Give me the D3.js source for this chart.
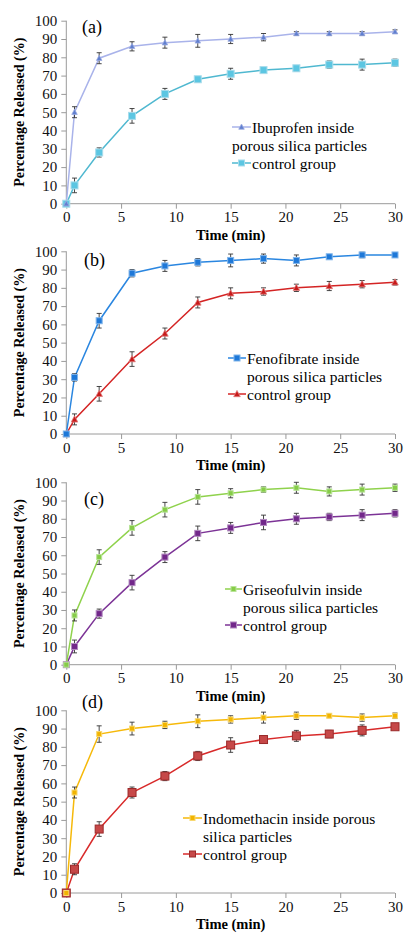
<!DOCTYPE html>
<html><head><meta charset="utf-8">
<script src="https://cdn.jsdelivr.net/npm/d3@7"></script>
<style>body{margin:0;background:#fff}svg{display:block}text{font-family:"Liberation Serif","Times New Roman",serif}</style>
</head><body>
<script>
const times = [0, 0.75, 3, 6, 9, 12, 15, 18, 21, 24, 27, 30];
const yTicks = [0,10,20,30,40,50,60,70,80,90,100];
const xTicks = [0,5,10,15,20,25,30];
const panelLabels = ["(a)","(b)","(c)","(d)"];

const ibuprofen = [0, 50, 79.5, 86, 88, 89, 90, 91, 93, 93, 93, 94];
const ibuprofenErr = [0, 3, 3, 2.5, 3, 3.5, 2.5, 2, 1, 1, 1, 1];
const controlA = [0, 10, 28, 48, 60, 68, 71, 73, 74, 76, 76, 77];
const controlAErr = [0, 4, 2.5, 4, 3, 1.5, 3, 1, 1.5, 2, 3, 2];

const fenofibrate = [0, 31, 62, 88, 92, 94, 95, 96, 95, 97, 98, 98];
const fenofibrateErr = [0, 2, 4, 2, 3, 2, 3.5, 2.5, 3, 1, 1.5, 1];
const controlB = [0, 8, 22, 41, 55, 72, 77, 78, 80, 81, 82, 83];
const controlBErr = [0, 3, 4, 4, 3, 3, 3, 2, 2, 2.5, 2, 1.5];

const griseofulvin = [0, 27, 59, 75, 85, 92, 94, 96, 97, 95, 96, 97];
const griseofulvinErr = [0, 3, 4, 4, 4, 4, 2.5, 1.5, 3, 2.5, 3, 2];
const controlC = [0, 10, 28, 45, 59, 72, 75, 78, 80, 81, 82, 83];
const controlCErr = [0, 3.5, 2.5, 4, 3, 4, 3, 4, 3, 2, 3, 2];

const indomethacin = [0, 55, 87, 90, 92, 94, 95, 96, 97, 97, 96, 97];
const indomethacinErr = [0, 3, 4.5, 3.5, 2, 3.5, 2, 3, 2, 1, 2, 1.5];
const controlD = [0, 13, 35, 55, 64, 75, 81, 84, 86, 87, 89, 91];
const controlDErr = [0, 3, 4, 3, 2.5, 2.5, 4, 2, 3, 2, 3, 1.5];

const legendA = [["Ibuprofen inside","porous silica particles"],["control group"]];
const legendB = [["Fenofibrate inside","porous silica particles"],["control group"]];
const legendC = [["Griseofulvin inside","porous silica particles"],["control group"]];
const legendD = [["Indomethacin inside porous","silica particles"],["control group"]];

const W = 406, H = 933;
const svg = d3.select("body").append("svg").attr("width", W).attr("height", H);

const panels = [
  {top:20.7, bottom:203.7, label:panelLabels[0], lx:82, ly:33,
   s1:{v:ibuprofen,e:ibuprofenErr,line:"#a9b3ea",fill:"#5f7fd0",stroke:"#9aaae0",shape:"tri",size:5},
   s2:{v:controlA,e:controlAErr,line:"#4fb8d0",fill:"#5cc6e2",stroke:"#a8dceb",shape:"sq",size:7},
   leg:legendA, legX:232, legTX:252, legY:[127,145,163], indent2:232},
  {top:251.3, bottom:434, label:panelLabels[1], lx:84, ly:266,
   s1:{v:fenofibrate,e:fenofibrateErr,line:"#2a86e0",fill:"#1e78d8",stroke:"#7fb4ea",shape:"sq",size:6},
   s2:{v:controlB,e:controlBErr,line:"#d42424",fill:"#c81a1a",stroke:"#e08080",shape:"tri",size:6},
   leg:legendB, legX:228, legTX:247, legY:[358,376,394], indent2:247},
  {top:482.3, bottom:664.7, label:panelLabels[2], lx:84, ly:505,
   s1:{v:griseofulvin,e:griseofulvinErr,line:"#8fd24c",fill:"#86cc48",stroke:"#b8e498",shape:"sq",size:5},
   s2:{v:controlC,e:controlCErr,line:"#7c3396",fill:"#72278a",stroke:"#b28ac0",shape:"sq",size:6},
   leg:legendC, legX:225, legTX:243, legY:[589,607,625], indent2:243},
  {top:710.3, bottom:893, label:panelLabels[3], lx:82, ly:708,
   s1:{v:indomethacin,e:indomethacinErr,line:"#f6b90a",fill:"#f2b400",stroke:"#f8d870",shape:"sq",size:5},
   s2:{v:controlD,e:controlDErr,line:"#d82a2a",fill:"#c64848",stroke:"#9a2a2a",shape:"sq",size:8},
   leg:legendD, legX:183, legTX:203, legY:[818,836,854], indent2:203}
];

const left = 66.3, right = 395;
const x = d3.scaleLinear().domain([0,30]).range([left,right]);

function marker(g, shape, cx, cy, s, fill, stroke){
  if(shape==="sq"){
    g.append("rect").attr("x",cx-s/2).attr("y",cy-s/2).attr("width",s).attr("height",s)
      .attr("fill",fill).attr("stroke",stroke).attr("stroke-width",1);
  } else {
    const h = s;
    g.append("path").attr("d",`M${cx},${cy-h*0.6}L${cx+h*0.55},${cy+h*0.45}L${cx-h*0.55},${cy+h*0.45}Z`)
      .attr("fill",fill).attr("stroke",stroke).attr("stroke-width",0.8);
  }
}

panels.forEach(p=>{
  const y = d3.scaleLinear().domain([0,100]).range([p.bottom,p.top]);
  const g = svg.append("g");

  const ya = g.append("g").attr("transform",`translate(${left},0)`)
    .call(d3.axisLeft(y).tickValues(yTicks).tickSize(5).tickPadding(4).tickFormat(d3.format("d")));
  const xa = g.append("g").attr("transform",`translate(0,${p.bottom})`)
    .call(d3.axisBottom(x).tickValues(xTicks).tickSize(5).tickPadding(3).tickFormat(d3.format("d")));
  [ya,xa].forEach(a=>{
    a.attr("font-family",null);
    a.select(".domain").attr("stroke","#9a9a9a").attr("d", a===ya ? `M0,${p.bottom}V${p.top}` : `M${left},0H${right}`);
    a.selectAll(".tick line").attr("stroke","#9a9a9a");
    a.selectAll(".tick text").attr("fill","#111").style("font-size","15px");
  });

  g.append("text").attr("transform",`translate(19,${(p.top+p.bottom)/2}) rotate(-90)`)
    .attr("text-anchor","middle").attr("dominant-baseline","central")
    .style("font-weight","bold").style("font-size","14px").text("Percentage Released (%)");
  g.append("text").attr("x",(left+right)/2).attr("y",p.bottom+36)
    .attr("text-anchor","middle").style("font-weight","bold").style("font-size","14.5px").text("Time (min)");

  g.append("text").attr("x",p.lx).attr("y",p.ly).style("font-size","18px").text(p.label);

  const line = d3.line().x((d,i)=>x(times[i])).y(d=>y(d));
  [p.s2,p.s1].forEach(s=>{
    g.append("path").datum(s.v).attr("d",line).attr("fill","none").attr("stroke",s.line).attr("stroke-width",1.5);
  });
  [p.s2,p.s1].forEach(s=>{
    s.v.forEach((v,i)=>{
      const cx = x(times[i]);
      if(s.e[i]>0){
        const y1 = y(v+s.e[i]), y2 = y(v-s.e[i]);
        g.append("line").attr("x1",cx).attr("x2",cx).attr("y1",y1).attr("y2",y2).attr("stroke","#333").attr("stroke-width",0.9);
        [y1,y2].forEach(yy=>g.append("line").attr("x1",cx-2.5).attr("x2",cx+2.5).attr("y1",yy).attr("y2",yy).attr("stroke","#333").attr("stroke-width",0.9));
      }
      marker(g, s.shape, cx, y(v), s.size, s.fill, s.stroke);
    });
  });

  const lg = g.append("g");
  const items = [[p.s1,p.leg[0],p.legY[0]],[p.s2,p.leg[1],p.legY[2]]];
  items.forEach(([s,txt,yy])=>{
    lg.append("line").attr("x1",p.legX).attr("x2",p.legTX-1).attr("y1",yy).attr("y2",yy).attr("stroke",s.line).attr("stroke-width",1.5);
    marker(lg, s.shape, (p.legX+p.legTX-1)/2, yy, Math.min(s.size,6), s.fill, s.stroke);
    lg.append("text").attr("x",p.legTX).attr("y",yy).attr("dominant-baseline","central").style("font-size","15.5px").text(txt[0]);
  });
  lg.append("text").attr("x",p.indent2).attr("y",p.legY[1]).attr("dominant-baseline","central").style("font-size","15.5px").text(p.leg[0][1]);
});
</script>
</body></html>
